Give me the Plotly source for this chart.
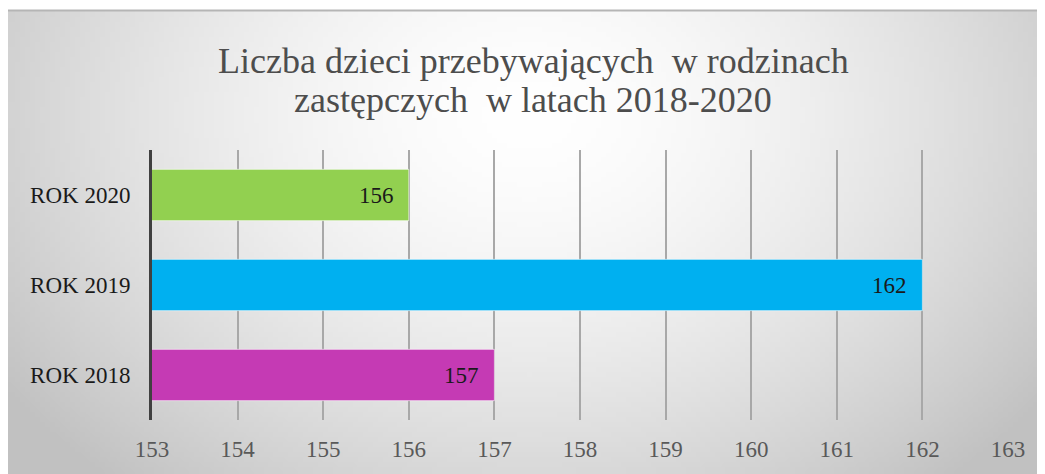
import base64, struct, zlib
import numpy as np
import plotly.graph_objects as go

categories = ["ROK 2018", "ROK 2019", "ROK 2020"]
values = [157, 162, 156]
bar_colors = ["#c53ab4", "#00b0f0", "#92d050"]
x_ticks = list(range(153, 164))
title_lines = ["Liczba dzieci przebywających  w rodzinach", "zastępczych  w latach 2018-2020"]


def gradient_png(w=209, h=93):
    yy, xx = np.mgrid[0:h, 0:w]
    cx, cy = w * 0.5, h * 0.22
    d = np.sqrt(((xx - cx) / (w * 0.62)) ** 2 + ((yy - cy) / (h * 1.05)) ** 2)
    d = np.clip(d, 0, 1)
    v = 255 - 62 * d ** 1.6
    img = np.clip(v, 0, 255).astype(np.uint8)
    raw = b"".join(b"\x00" + np.repeat(img[r][:, None], 3, axis=1).tobytes() for r in range(h))

    def chunk(t, data):
        c = struct.pack(">I", len(data)) + t + data
        return c + struct.pack(">I", zlib.crc32(t + data) & 0xffffffff)

    png = b"\x89PNG\r\n\x1a\n" + chunk(b"IHDR", struct.pack(">IIBBBBB", w, h, 8, 2, 0, 0, 0))
    png += chunk(b"IDAT", zlib.compress(raw, 9)) + chunk(b"IEND", b"")
    return "data:image/png;base64," + base64.b64encode(png).decode()


# page body has an 8px margin, so the figure is drawn at (8, 8)
W, H = 1037, 466
ml, mr, mt, mb = 144, 37, 142, 54
pw, ph = W - ml - mr, H - mt - mb


def px_x(p):
    return (p - ml) / pw


def px_y(p):
    return (H - mb - p) / ph


fig = go.Figure()
fig.add_trace(go.Bar(
    y=categories, x=values, orientation="h",
    marker=dict(color=bar_colors, line=dict(color="rgba(255,255,255,0.6)", width=1)),
    width=0.57,
    cliponaxis=True,
))

annotations = [
    dict(text=title_lines[0], xref="paper", yref="paper", x=px_x(525), y=px_y(53),
         xanchor="center", yanchor="middle", showarrow=False,
         font=dict(family="Liberation Serif", size=36, color="#4d4d4d")),
    dict(text=title_lines[1], xref="paper", yref="paper", x=px_x(525), y=px_y(92),
         xanchor="center", yanchor="middle", showarrow=False,
         font=dict(family="Liberation Serif", size=36, color="#4d4d4d")),
]
for c, v in zip(categories, values):
    annotations.append(dict(text=str(v), x=v, y=c, xref="x", yref="y", xanchor="right",
                            yanchor="middle", xshift=-13, showarrow=False,
                            font=dict(family="Liberation Serif", size=23, color="#1a1a1a")))

fig.update_layout(
    width=W, height=H,
    margin=dict(l=ml, r=mr, t=mt, b=mb, autoexpand=False),
    paper_bgcolor="white", plot_bgcolor="rgba(0,0,0,0)",
    showlegend=False,
    xaxis=dict(range=[153, 163], tickvals=x_ticks, showgrid=True, gridcolor="#a8a8a8", gridwidth=1.5,
               zeroline=False, showline=False, ticks="", ticklen=0, ticklabelstandoff=13,
               tickfont=dict(family="Liberation Serif", size=23, color="#595959")),
    yaxis=dict(categoryorder="array", categoryarray=categories, showgrid=False, zeroline=False,
               showline=True, linecolor="#404040", linewidth=3, ticks="", ticklabelstandoff=14,
               tickfont=dict(family="Liberation Serif", size=23, color="#1a1a1a")),
    annotations=annotations,
    images=[dict(source=gradient_png(), xref="paper", yref="paper",
                 x=px_x(0), y=px_y(2), sizex=px_x(W) - px_x(0), sizey=px_y(2) - px_y(H),
                 xanchor="left", yanchor="top", sizing="stretch", layer="below")],
    shapes=[dict(type="line", xref="paper", yref="paper", x0=px_x(0), x1=px_x(W),
                 y0=px_y(2.5), y1=px_y(2.5), line=dict(color="#b5b5b5", width=2))],
)

fig.write_html("out.html")
